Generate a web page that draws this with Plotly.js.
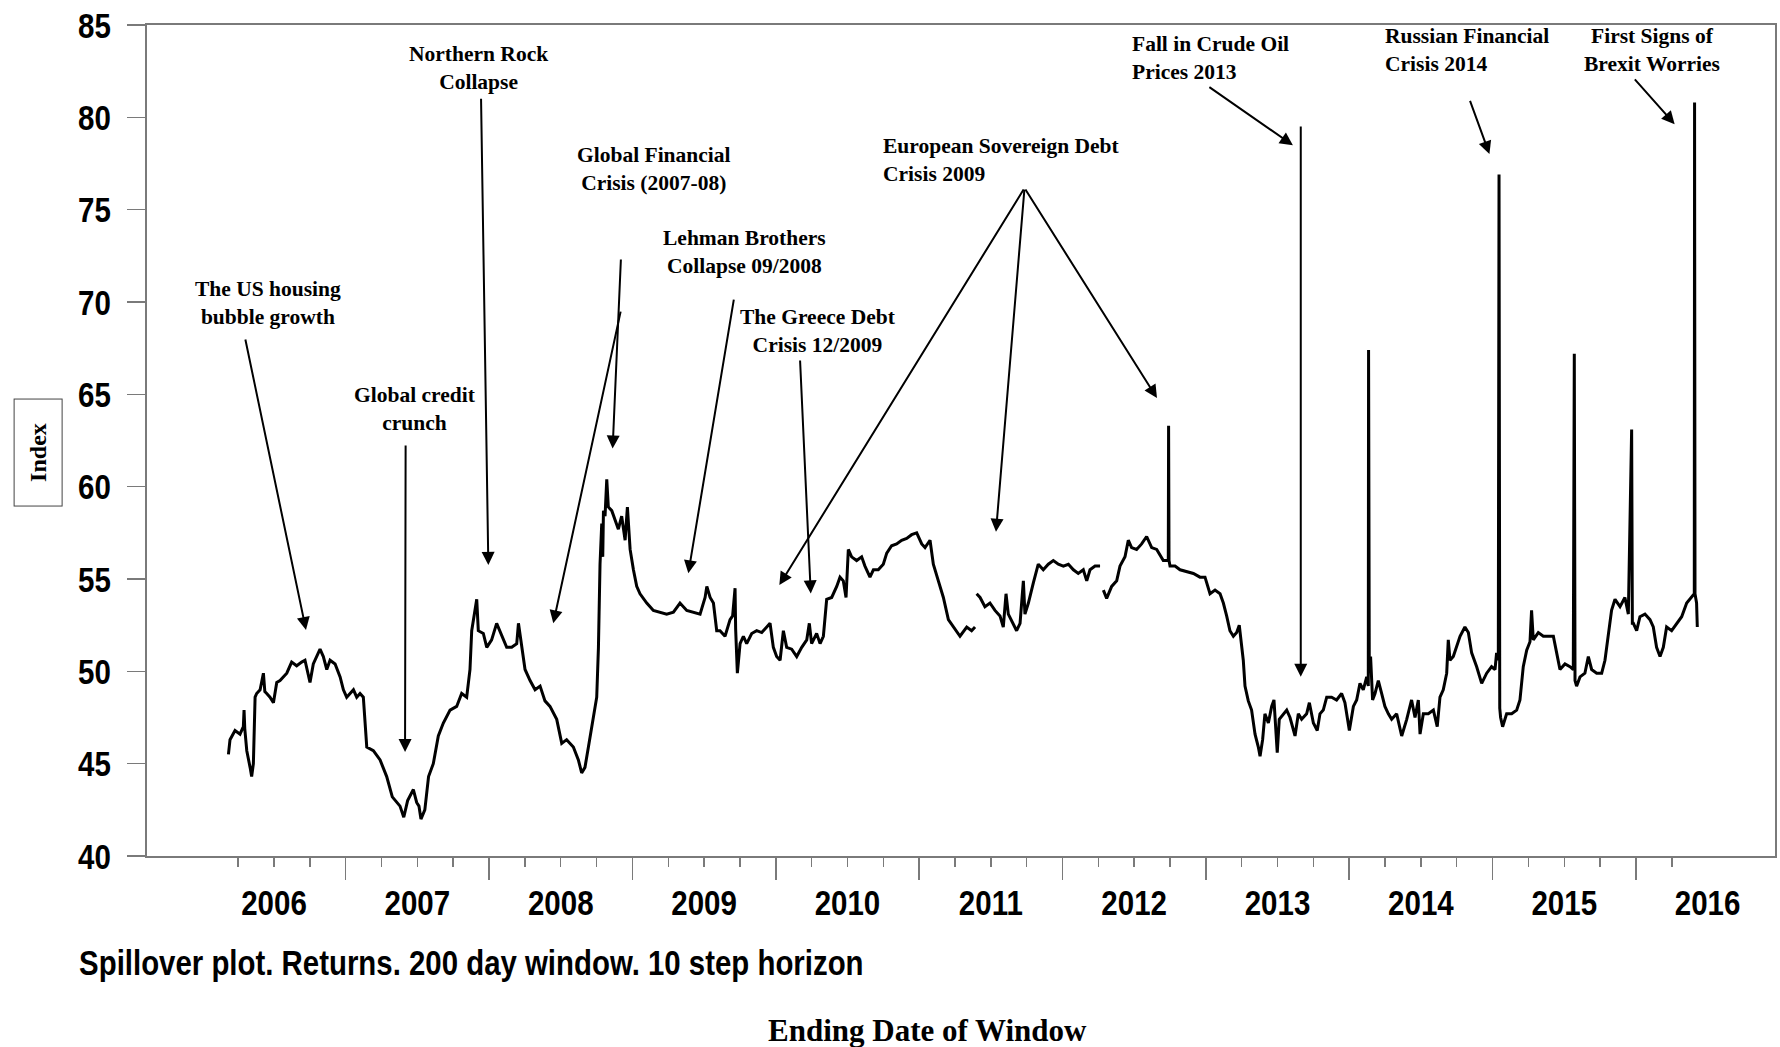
<!DOCTYPE html>
<html>
<head>
<meta charset="utf-8">
<script src="https://cdn.plot.ly/plotly-3.0.1.min.js"></script>
<style>
html,body{margin:0;padding:0;background:#ffffff;}
#chart{width:1780px;height:1047px;}
</style>
</head>
<body>
<div id="chart"></div>
<script>
// ---- Data (ending date of window as decimal year, spillover index) ----
const window_end_year = [
2006.182,2006.193,2006.228,2006.263,2006.286,2006.291,2006.296,2006.310,2006.333,2006.344,2006.356,2006.368,2006.379,2006.403,2006.426,2006.436,2006.449,2006.472,2006.496,2006.519,
2006.542,2006.589,2006.623,2006.658,2006.693,2006.716,2006.751,2006.774,2006.821,2006.844,2006.868,2006.891,2006.926,2006.961,2006.984,2007.007,2007.054,2007.077,2007.100,2007.123,
2007.147,2007.193,2007.240,2007.286,2007.325,2007.379,2007.405,2007.432,2007.472,2007.495,2007.511,2007.525,2007.552,2007.578,2007.611,2007.646,2007.681,2007.728,2007.774,2007.809,
2007.844,2007.867,2007.879,2007.902,2007.914,2007.925,2007.960,2007.984,2008.018,2008.053,2008.088,2008.123,2008.158,2008.193,2008.205,2008.228,2008.251,2008.286,2008.321,2008.356,
2008.390,2008.425,2008.472,2008.507,2008.541,2008.588,2008.623,2008.646,2008.669,2008.693,2008.728,2008.751,2008.763,2008.774,2008.786,2008.793,2008.798,2008.809,2008.821,2008.832,
2008.856,2008.879,2008.902,2008.925,2008.949,2008.965,2008.984,2009.007,2009.030,2009.053,2009.100,2009.146,2009.193,2009.239,2009.286,2009.332,2009.379,2009.425,2009.472,2009.507,
2009.519,2009.542,2009.565,2009.588,
2009.611,2009.646,2009.681,2009.699,2009.716,2009.720,2009.732,2009.751,2009.774,2009.797,2009.832,2009.867,2009.902,2009.937,2009.960,2009.983,2010.006,2010.030,2010.053,2010.076,
2010.111,2010.146,2010.181,2010.216,2010.234,2010.250,2010.285,2010.309,2010.332,2010.355,2010.390,2010.425,2010.448,2010.471,2010.490,2010.506,2010.529,2010.564,2010.599,2010.622,
2010.657,2010.681,2010.715,2010.750,2010.774,2010.808,2010.843,2010.878,2010.913,2010.948,2010.983,2011.018,2011.041,2011.076,2011.099,2011.134,2011.169,2011.204,2011.239,2011.285,
2011.332,2011.366,2011.390,2011.395,2011.401,2011.425,2011.459,2011.494,2011.529,2011.564,2011.587,2011.606,2011.622,2011.657,2011.680,2011.704,2011.727,2011.738,2011.762,2011.797,
2011.831,2011.866,2011.901,2011.936,2011.971,2012.006,2012.041,2012.076,2012.110,2012.145,2012.169,2012.192,2012.227,2012.262,2012.273,2012.285,2012.308,2012.343,2012.378,2012.401,
2012.436,2012.459,2012.482,2012.517,2012.552,2012.587,2012.622,2012.657,2012.703,2012.738,2012.740,2012.743,2012.750,2012.785,2012.820,2012.866,2012.913,2012.959,2012.994,2013.029,
2013.064,
2013.099,2013.122,2013.145,2013.168,2013.192,2013.215,2013.233,2013.243,2013.261,2013.273,2013.296,2013.319,2013.343,2013.366,2013.378,2013.396,2013.412,2013.436,2013.459,2013.475,
2013.489,2013.498,2013.512,2013.540,2013.564,2013.587,2013.622,2013.645,2013.668,2013.703,2013.722,2013.750,2013.777,2013.796,2013.819,2013.843,2013.877,2013.912,2013.947,2013.970,
2014.001,2014.029,2014.052,2014.075,2014.098,2014.122,2014.133,2014.135,2014.140,2014.149,2014.163,2014.180,2014.203,2014.226,2014.249,2014.273,2014.296,2014.331,2014.366,2014.401,
2014.435,2014.459,2014.482,2014.494,2014.517,2014.552,2014.587,2014.614,2014.633,2014.656,2014.680,2014.691,2014.703,2014.726,2014.749,2014.773,2014.807,2014.831,2014.854,2014.889,
2014.924,2014.959,2014.993,2015.017,2015.028,2015.040,2015.045,2015.050,2015.056,2015.070,2015.098,2015.133,2015.168,2015.191,2015.214,2015.238,2015.261,2015.272,2015.284,2015.319,
2015.354,2015.389,2015.424,2015.447,2015.470,2015.505,2015.540,2015.563,2015.570,2015.575,2015.586,2015.610,2015.644,2015.668,2015.691,2015.726,2015.761,2015.784,2015.807,2015.830,
2015.854,2015.889,2015.923,2015.947,2015.970,2015.975,2015.982,2016.005,2016.028,2016.063,2016.098,2016.121,2016.144,2016.168,2016.191,2016.214,2016.249,2016.284,2016.319,2016.354,
2016.388,2016.407,2016.409,2016.412,2016.423,2016.428
];
const spillover_index = [
45.5,46.3,46.8,46.6,47.0,47.9,46.9,45.7,44.8,44.3,45.0,48.6,48.8,49.0,49.9,48.9,48.8,48.6,48.3,49.4,
49.5,49.9,50.5,50.3,50.5,50.6,49.4,50.4,51.2,50.8,50.1,50.6,50.4,49.7,49.0,48.6,49.0,48.6,48.8,48.6,
45.9,45.7,45.2,44.3,43.2,42.7,42.1,43.0,43.6,42.9,42.7,42.0,42.5,44.3,45.0,46.5,47.2,47.9,48.1,48.8,
48.6,50.1,52.2,53.3,53.9,52.2,52.05,51.3,51.7,52.6,51.9,51.3,51.3,51.5,52.6,51.2,50.1,49.5,49.0,49.2,
48.4,48.1,47.4,46.1,46.3,45.9,45.2,44.5,44.8,45.9,47.4,48.6,51.3,55.8,58.0,56.2,58.7,58.4,60.4,58.9,
58.7,58.2,57.7,58.4,57.1,58.9,56.6,55.5,54.6,54.2,53.7,53.3,53.2,53.1,53.2,53.7,53.3,53.2,53.1,54.0,
54.6,54.0,53.7,52.2,
52.2,51.9,52.8,53.0,54.5,52.3,49.9,51.5,51.9,51.5,52.05,52.2,52.1,52.4,52.6,51.3,50.8,50.6,52.2,51.3,
51.2,50.8,51.3,51.7,52.6,51.5,52.05,51.5,51.9,53.9,54.0,54.6,55.1,54.9,54.0,56.6,56.2,56.0,56.2,55.7,
55.1,55.5,55.5,55.8,56.4,56.8,56.9,57.1,57.2,57.4,57.5,56.9,56.7,57.1,55.8,54.9,54.0,52.8,52.4,51.9,
52.4,52.2,52.4,null,54.2,54.0,53.5,53.7,53.3,53.0,52.4,54.2,53.1,52.6,52.2,52.6,54.9,53.1,53.7,54.8,
55.8,55.5,55.8,56.0,55.8,55.7,55.8,55.5,55.3,55.5,54.9,55.5,55.7,55.7,null,54.4,53.95,54.6,54.9,55.7,
56.2,57.1,56.7,56.6,56.9,57.3,56.7,56.6,56.0,56.0,63.3,56.0,55.7,55.7,55.5,55.4,55.3,55.1,55.1,54.2,
54.4,
54.2,53.7,53.0,52.2,51.9,52.1,52.5,51.7,50.6,49.2,48.4,47.9,46.6,45.9,45.4,46.3,47.7,47.2,48.1,48.45,
47.0,45.6,47.4,47.7,47.9,47.5,46.5,47.7,47.4,47.7,48.3,47.2,46.8,47.7,47.9,48.6,48.6,48.45,48.8,48.3,
46.8,48.1,48.45,49.35,49.0,49.7,49.2,67.4,50.0,50.8,48.45,48.8,49.5,48.8,48.1,47.7,47.4,47.7,46.5,47.4,
48.45,47.5,48.45,46.6,47.7,47.7,47.9,47.0,48.6,49.0,49.9,51.7,50.6,50.8,51.3,51.9,52.4,52.1,51.0,50.25,
49.35,49.9,50.25,50.1,51.0,50.6,76.9,48.0,47.5,47.0,47.7,47.7,47.9,48.45,50.25,51.15,51.6,53.3,51.7,52.1,
51.9,51.9,51.9,51.0,50.1,50.4,50.25,50.1,67.2,49.5,49.2,49.7,49.9,50.8,50.1,49.9,49.9,50.6,51.9,53.3,
53.9,53.5,54.0,53.1,63.1,52.6,52.6,52.2,52.96,53.1,52.8,52.4,51.3,50.8,51.3,52.4,52.2,52.6,52.96,53.7,
54.0,54.2,80.8,54.2,53.7,52.4
];

// ---- Axis ticks and labels ----
const year_labels = ['2006','2007','2008','2009','2010','2011','2012','2013','2014','2015','2016'];
const year_label_pos = [2006.5,2007.5,2008.5,2009.5,2010.5,2011.5,2012.5,2013.5,2014.5,2015.5,2016.5];
const year_start_ticks = [2007,2008,2009,2010,2011,2012,2013,2014,2015,2016];
const quarter_ticks = [2006.25,2006.5,2006.75,2007.25,2007.5,2007.75,2008.25,2008.5,2008.75,2009.25,2009.5,2009.75,
  2010.25,2010.5,2010.75,2011.25,2011.5,2011.75,2012.25,2012.5,2012.75,2013.25,2013.5,2013.75,
  2014.25,2014.5,2014.75,2015.25,2015.5,2015.75,2016.25];
const index_ticks = [40,45,50,55,60,65,70,75,80,85];

// ---- Event labels (text placed in data coordinates) ----
const event_labels = [
  {text:'The US housing<br>bubble growth', x:2006.458, y:69.97, anchor:'center'},
  {text:'Global credit<br>crunch', x:2007.480, y:64.20, anchor:'center'},
  {text:'Northern Rock<br>Collapse', x:2007.923, y:82.66, anchor:'center'},
  {text:'Global Financial<br>Crisis (2007-08)', x:2009.148, y:77.20, anchor:'center'},
  {text:'Lehman Brothers<br>Collapse 09/2008', x:2009.782, y:72.70, anchor:'center'},
  {text:'The Greece Debt<br>Crisis 12/2009', x:2010.292, y:68.45, anchor:'center'},
  {text:'European Sovereign Debt<br>Crisis 2009', x:2010.733, y:77.68, anchor:'left'},
  {text:'Fall in Crude Oil<br>Prices 2013', x:2012.471, y:83.23, anchor:'left'},
  {text:'Russian Financial<br>Crisis 2014', x:2014.234, y:83.65, anchor:'left'},
  {text:'First Signs of<br>Brexit Worries', x:2016.109, y:83.65, anchor:'center'}
];
// arrows: tail -> head, data coordinates
const event_arrows = [
  {tx:2006.298, ty:68.05, hx:2006.723, hy:52.24},
  {tx:2007.418, ty:62.31, hx:2007.414, hy:45.63},
  {tx:2007.944, ty:81.09, hx:2007.995, hy:55.76},
  {tx:2008.920, ty:72.38, hx:2008.862, hy:62.07},
  {tx:2008.920, ty:69.56, hx:2008.448, hy:52.60},
  {tx:2009.709, ty:70.21, hx:2009.390, hy:55.31},
  {tx:2010.169, ty:66.91, hx:2010.244, hy:54.22},
  {tx:2011.735, ty:76.17, hx:2010.025, hy:54.67},
  {tx:2011.735, ty:76.17, hx:2011.536, hy:57.56},
  {tx:2011.735, ty:76.17, hx:2012.659, hy:64.80},
  {tx:2013.014, ty:81.69, hx:2013.607, hy:78.49},
  {tx:2013.662, ty:79.58, hx:2013.662, hy:49.71},
  {tx:2014.839, ty:80.97, hx:2014.978, hy:78.01},
  {tx:2015.983, ty:82.14, hx:2016.270, hy:79.63}
];

const X_RANGE = [2005.614, 2016.970];
const AXIS_GREY = '#7a7a7a';
const SANS = '"Liberation Sans", Arial, sans-serif';
const SERIF = '"Liberation Serif", "Times New Roman", "DejaVu Serif", serif';
const NARROW_SCALE = 0.82;   // Arial-Narrow look obtained by condensing Liberation Sans
const CAPTION_SCALE = 0.84;

const traces = [
  {
    x: window_end_year, y: spillover_index, type: 'scatter', mode: 'lines',
    line: {color: '#000000', width: 3}, connectgaps: false,
    hoverinfo: 'skip', showlegend: false, xaxis: 'x', yaxis: 'y'
  },
  {
    x: [year_start_ticks[0]], y: [null], type: 'scatter', mode: 'lines',
    xaxis: 'x2', yaxis: 'y', hoverinfo: 'skip', showlegend: false
  }
];

const annotations = [];
event_labels.forEach(e => annotations.push({
  x: e.x, y: e.y, xref: 'x', yref: 'y', text: e.text, showarrow: false,
  xanchor: e.anchor, yanchor: 'middle', align: e.anchor === 'left' ? 'left' : 'center',
  font: {family: SERIF, size: 21.5, color: '#000000', weight: 'bold'}
}));
event_arrows.forEach(a => annotations.push({
  x: a.hx, y: a.hy, ax: a.tx, ay: a.ty, xref: 'x', yref: 'y', axref: 'x', ayref: 'y',
  text: '', showarrow: true, arrowhead: 2, arrowsize: 1.3, arrowwidth: 2,
  arrowcolor: '#000000', standoff: 0, startstandoff: 0
}));
// boxed y-axis title
annotations.push({
  xref: 'paper', yref: 'paper', x: -0.0666, y: 0.485, xanchor: 'center', yanchor: 'middle',
  text: 'Index', textangle: -90, showarrow: false,
  font: {family: SERIF, size: 24, color: '#000000', weight: 'bold'},
  bordercolor: '#444444', borderwidth: 1, borderpad: 1, width: 104, height: 45
});
// caption under the axis
const CAPTION_INDEX = annotations.length;
annotations.push({
  xref: 'paper', yref: 'paper', x: -0.0430, y: -0.1276, xanchor: 'left', yanchor: 'middle',
  text: 'Spillover plot. Returns. 200 day window. 10 step horizon', showarrow: false,
  font: {family: SANS, size: 35, color: '#000000', weight: 'bold'}
});
// x-axis title
annotations.push({
  xref: 'paper', yref: 'paper', x: 0.4794, y: -0.2094, xanchor: 'center', yanchor: 'middle',
  text: 'Ending Date of Window', showarrow: false,
  font: {family: SERIF, size: 31, color: '#000000', weight: 'bold'}
});

const layout = {
  width: 1780, height: 1047,
  margin: {l: 147, r: 5, t: 25, b: 191, pad: 0},
  paper_bgcolor: '#ffffff', plot_bgcolor: '#ffffff',
  showlegend: false,
  xaxis: {
    range: X_RANGE, tickmode: 'array', tickvals: year_label_pos, ticktext: year_labels,
    ticks: '', showgrid: false, zeroline: false,
    showline: true, mirror: true, linecolor: AXIS_GREY, linewidth: 2,
    tickfont: {family: SANS, size: 36, color: '#000000', weight: 'bold'},
    ticklabelstandoff: 14, fixedrange: true
  },
  xaxis2: {
    overlaying: 'x', anchor: 'y', side: 'bottom', range: X_RANGE,
    tickmode: 'array', tickvals: year_start_ticks, ticks: 'outside', ticklen: 23,
    tickwidth: 1.5, tickcolor: AXIS_GREY, showticklabels: false,
    showgrid: false, zeroline: false, showline: false,
    minor: {tickmode: 'array', tickvals: quarter_ticks, ticks: 'outside', ticklen: 10,
            tickwidth: 1.5, tickcolor: AXIS_GREY, showgrid: false},
    fixedrange: true
  },
  yaxis: {
    range: [40, 85], tickmode: 'array', tickvals: index_ticks,
    ticks: 'outside', ticklen: 18, tickwidth: 1.5, tickcolor: AXIS_GREY,
    showgrid: false, zeroline: false,
    showline: true, mirror: true, linecolor: AXIS_GREY, linewidth: 2,
    tickfont: {family: SANS, size: 36, color: '#000000', weight: 'bold'},
    ticklabelstandoff: 9, fixedrange: true
  },
  annotations: annotations
};

// horizontally condense a text element around a pivot (its anchor x, or its left edge)
function condense(el, s, fromLeft) {
  if (!el) return;
  let px = parseFloat(el.getAttribute('x')) || 0;
  if (fromLeft) {
    try { px = el.getBBox().x; } catch (e) {}
  }
  const t = el.getAttribute('transform') || '';
  el.setAttribute('transform', t + ' translate(' + px + ',0) scale(' + s + ',1) translate(' + (-px) + ',0)');
}

Plotly.newPlot('chart', traces, layout, {staticPlot: true, displayModeBar: false}).then(gd => {
  gd.querySelectorAll('.xtick text, .ytick text').forEach(el => condense(el, NARROW_SCALE, false));
  const cap = gd.querySelector('.annotation[data-index="' + CAPTION_INDEX + '"] text.annotation-text');
  condense(cap, CAPTION_SCALE, true);
});
</script>
</body>
</html>
